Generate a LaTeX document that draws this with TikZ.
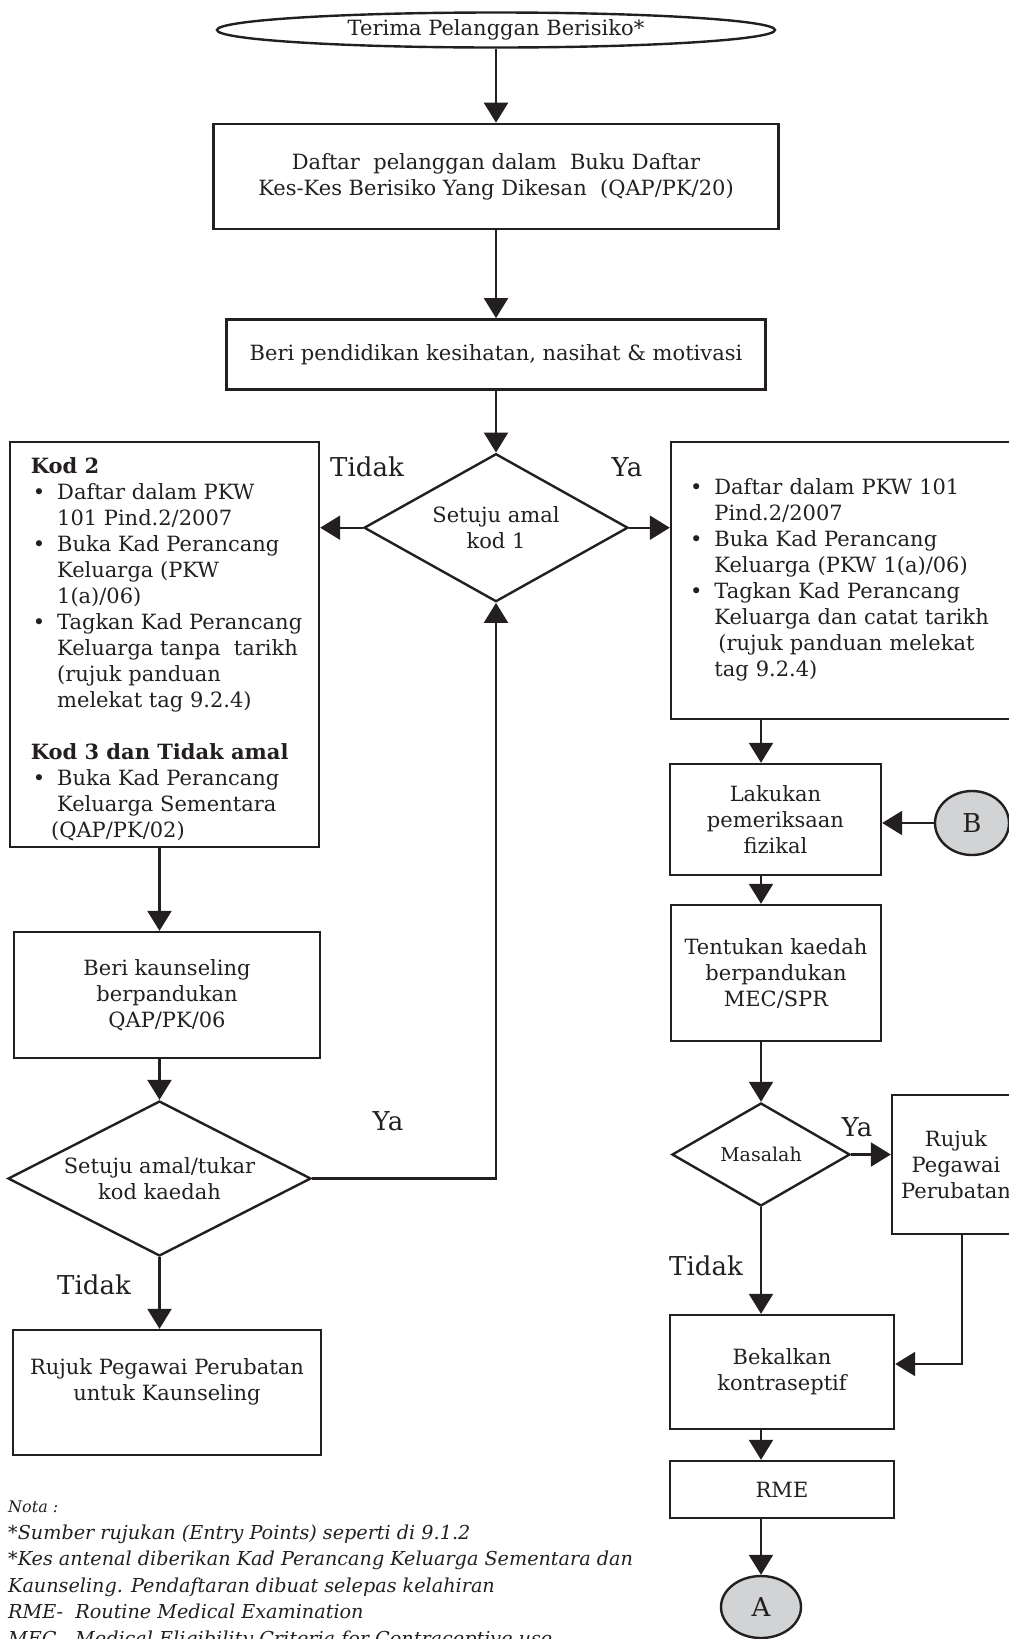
\documentclass[tikz,border=0pt]{standalone}
\usepackage{fontspec}
\setmainfont{DejaVu Serif}
\usetikzlibrary{shapes.geometric,arrows.meta,positioning}

\definecolor{ink}{HTML}{231F20}
\definecolor{disc}{HTML}{D1D3D4}

\newcommand{\bodyfont}{\fontsize{10.5}{13}\selectfont}
\newcommand{\smallbody}{\fontsize{9.5}{12}\selectfont}
\newcommand{\lblfont}{\fontsize{13}{15}\selectfont}
\newcommand{\notefont}{\fontsize{9.6}{13.25}\selectfont\itshape}

\tikzstyle{box} = [draw=ink,line width=1.2pt,rectangle,align=center,font=\bodyfont,inner sep=2pt]
\tikzstyle{decision} = [draw=ink,line width=1.2pt,diamond,align=center,font=\bodyfont,inner sep=0pt]
\tikzstyle{term} = [draw=ink,line width=1.2pt,ellipse,font=\bodyfont,inner sep=0pt]
\tikzstyle{link} = [term,fill=disc,font=\lblfont]
\tikzstyle{lbl} = [font=\lblfont,inner sep=0pt]

\begin{document}
\begin{tikzpicture}[x=0.5pt,y=-0.5pt,color=ink,line width=1.2pt,>={Triangle[length=10pt,width=12pt]}]
	\useasboundingbox (0,0) rectangle (1008,1639);
	% main column
	\node (start) [term,minimum width=279pt,minimum height=17.5pt] at (496,30) {Terima Pelanggan Berisiko*};
	\node (reg) [box,minimum width=282.5pt,minimum height=52.5pt,below=37pt of start] {Daftar\ \ pelanggan dalam\ \ Buku Daftar\\Kes-Kes Berisiko Yang Dikesan\ \ (QAP/PK/20)};
	\node (edu) [box,minimum width=269.5pt,minimum height=35pt,below=44pt of reg] {Beri pendidikan kesihatan, nasihat \& motivasi};
	\node (dec1) [decision,shape aspect=1.78,minimum width=132pt,minimum height=74pt,below=31pt of edu] {Setuju amal\\kod 1};
	% tidak branch
	\node (kod) [box,minimum width=154.5pt,minimum height=202.5pt] at (164.5,644.5) {%
		\raisebox{-3pt}[\height][\depth]{\begin{tabular}{@{\hspace{3pt}}l@{\hspace{6pt}}l@{}}
			\multicolumn{2}{@{\hspace{2pt}}l@{}}{\textbf{Kod 2}}\\
			\textbullet & Daftar dalam PKW\\
			& 101 Pind.2/2007\\
			\textbullet & Buka Kad Perancang\\
			& Keluarga (PKW\\
			& 1(a)/06)\\
			\textbullet & Tagkan Kad Perancang\\
			& Keluarga tanpa\ \ tarikh\\
			& (rujuk panduan\\
			& melekat tag 9.2.4)\\[13pt]
			\multicolumn{2}{@{\hspace{2pt}}l@{}}{\textbf{Kod 3 dan Tidak amal}}\\
			\textbullet & Buka Kad Perancang\\
			& Keluarga Sementara\\
			& \hspace{-3pt}(QAP/PK/02)
		\end{tabular}}};
	\node (kaun) [box,minimum width=153pt,minimum height=63pt] at (167,995) {Beri kaunseling\\berpandukan\\QAP/PK/06};
	\node (dec2) [decision,shape aspect=1.95,minimum width=151.5pt,minimum height=77.5pt] at (159.5,1178.5) {Setuju amal/tukar\\kod kaedah};
	\node (refL) [box,minimum width=154pt,minimum height=62.5pt] at (167,1392.5) {Rujuk Pegawai Perubatan\\untuk Kaunseling\\\mbox{}};
	% ya branch
	\node (ybox) [box,minimum width=174.5pt,minimum height=138.5pt,text width=155.5pt,align=left] at (845.5,580.5) {%
		\begin{tabular}{@{}l@{\hspace{6pt}}l@{}}
			\textbullet & Daftar dalam PKW 101\\
			& Pind.2/2007\\
			\textbullet & Buka Kad Perancang\\
			& Keluarga (PKW 1(a)/06)\\
			\textbullet & Tagkan Kad Perancang\\
			& Keluarga dan catat tarikh\\
			& \hspace{2pt}(rujuk panduan melekat\\
			& tag 9.2.4)
		\end{tabular}};
	\node (lakukan) [box,minimum width=105.5pt,minimum height=55.5pt] at (775.5,819.5) {Lakukan\\pemeriksaan\\fizikal};
	\node (B) [link,minimum width=37pt,minimum height=32pt] at (972,823) {B};
	\node (tentukan) [box,minimum width=105pt,minimum height=68pt] at (776,973) {Tentukan kaedah\\berpandukan\\MEC/SPR};
	\node (masalah) [decision,shape aspect=1.73,minimum width=89pt,minimum height=51.5pt,font=\smallbody] at (761,1154.5) {Masalah};
	\node (refR) [box,minimum width=64pt,minimum height=69.5pt] at (956,1164.5) {Rujuk\\Pegawai\\Perubatan};
	\node (bekal) [box,minimum width=112pt,minimum height=57pt] at (782,1372) {Bekalkan\\kontraseptif};
	\node (rme) [box,minimum width=112pt,minimum height=28.5pt] at (782,1489.5) {RME};
	\node (A) [link,minimum width=40pt,minimum height=31pt] at (761,1607) {A};
	% branch labels
	\node (no1) [lbl] at (367,467) {Tidak};
	\node (yes1) [lbl] at (627,467) {Ya};
	\node (yes2) [lbl] at (388,1121) {Ya};
	\node (no2) [lbl] at (94,1285) {Tidak};
	\node (yes3) [lbl] at (857,1127) {Ya};
	\node (no3) [lbl] at (706,1266) {Tidak};
	% notes
	\node (nota) [anchor=north west,align=left,font=\notefont,inner sep=0pt] at (7,1500) {{\fontsize{8}{10}\selectfont Nota :}\\
		*Sumber rujukan (Entry Points) seperti di 9.1.2\\
		*Kes antenal diberikan Kad Perancang Keluarga Sementara dan\\
		Kaunseling. Pendaftaran dibuat selepas kelahiran\\
		RME-\ \ Routine Medical Examination\\
		MEC - Medical Eligibility Criteria for Contraceptive use};
	% connections
	\draw [->] (start) -- (reg);
	\draw [->] (reg) -- (edu);
	\draw [->] (edu) -- (dec1);
	\draw [->] (dec1.west) -- (dec1.west -| kod.east);
	\draw [->] (dec1.east) -- (dec1.east -| ybox.west);
	\draw [->] (kod.south -| dec2) -- (kaun.north -| dec2);
	\draw [->] (kaun.south -| dec2) -- (dec2);
	\draw [->] (dec2.east) -| (dec1.south);
	\draw [->] (dec2) -- (refL.north -| dec2);
	\draw [->] (ybox.south -| masalah) -- (lakukan.north -| masalah);
	\draw [->] (B.west) -- (B.west -| lakukan.east);
	\draw [->] (lakukan.south -| masalah) -- (tentukan.north -| masalah);
	\draw [->] (tentukan.south -| masalah) -- (masalah);
	\draw [->] (masalah.east) -- (masalah.east -| refR.west);
	\draw [->] (masalah) -- (bekal.north -| masalah);
	\draw [->] ([xshift=3pt]refR.south) |- ([yshift=4pt]bekal.east);
	\draw [->] (bekal.south -| masalah) -- (rme.north -| masalah);
	\draw [->] (rme.south -| masalah) -- (A);
\end{tikzpicture}
\end{document}
